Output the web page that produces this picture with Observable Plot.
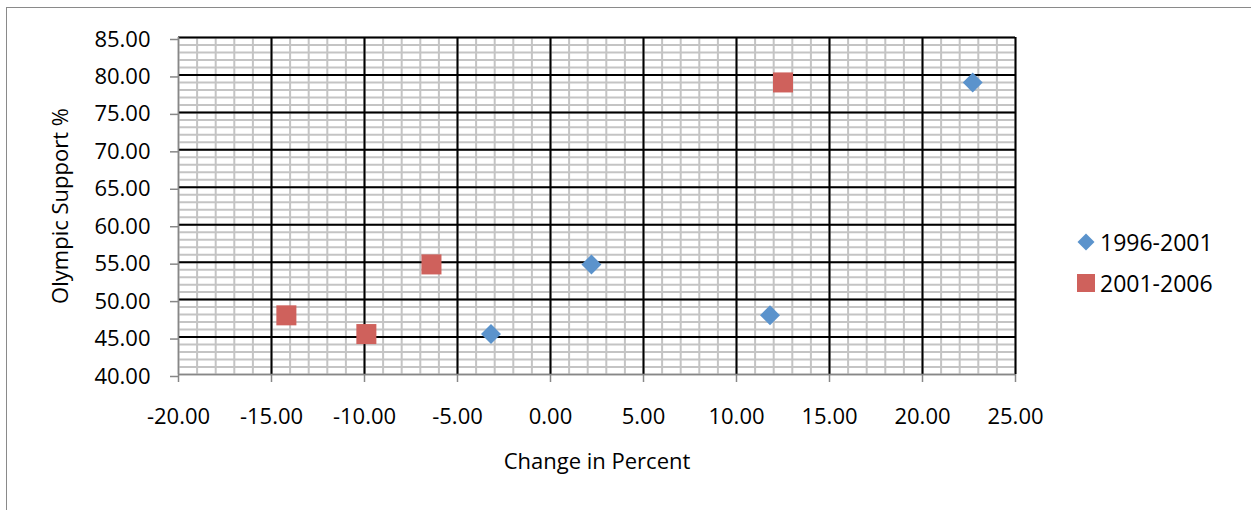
<!DOCTYPE html>
<html>
<head>
<meta charset="utf-8">
<script src="https://cdn.jsdelivr.net/npm/d3@7"></script>
<script src="https://cdn.jsdelivr.net/npm/@observablehq/plot@0.6"></script>
<style>
  body { margin: 0; background: #fff; font-family: "Open Sans", sans-serif; }
  #wrap { position: relative; width: 1251px; height: 510px; overflow: hidden; background: #fff; }
  #frame { position: absolute; left: 6px; top: 7px; width: 1300px; height: 560px; border: 1.5px solid #8a8a8a; box-sizing: border-box; }
  #chart { position: absolute; left: 0; top: 0; }
  .legend-item { position: absolute; left: 1076px; display: flex; align-items: center; font-size: 23px; color: #000; line-height: 1; }
  .legend-item svg { margin-right: 4px; }
</style>
</head>
<body>
<div id="wrap">
  <div id="frame"></div>
  <div id="chart"></div>
</div>
<script>
// Series names and colours
const seriesNames = ["1996-2001", "2001-2006"];
const seriesColors = ["#5b93cc", "#cf615c"];

// 1996-2001: change in percent vs Olympic support
const change9601 = [-3.2, 2.2, 11.8, 22.7];
const support9601 = [45.4, 54.7, 47.9, 79.0];

// 2001-2006: change in percent vs Olympic support
const change0106 = [-9.9, -6.4, -14.2, 12.5];
const support0106 = [45.4, 54.7, 47.9, 79.0];

// Axis ticks
const xTicks = [-20, -15, -10, -5, 0, 5, 10, 15, 20, 25];
const yTicks = [40, 45, 50, 55, 60, 65, 70, 75, 80, 85];
const xMinor = d3.range(-20, 26, 1);
const yMinor = d3.range(40, 86, 1);

const rows9601 = change9601.map((c, i) => ({change: c, support: support9601[i]}));
const rows0106 = change0106.map((c, i) => ({change: c, support: support0106[i]}));

const fmt = d => d.toFixed(2);
const axisGray = "#878787";

const chart = Plot.plot({
  width: 1251,
  height: 510,
  marginLeft: 178,
  marginRight: 236,
  marginTop: 37,
  marginBottom: 136,
  style: { fontFamily: "Open Sans", fontSize: "22px", color: "#000", background: "transparent" },
  x: { domain: [-20, 25] },
  y: { domain: [40, 85] },
  marks: [
    // minor grid
    Plot.ruleX(xMinor, { stroke: "#c4c4c4", strokeWidth: 2 }),
    Plot.ruleY(yMinor, { stroke: "#c4c4c4", strokeWidth: 2 }),
    // major grid
    Plot.ruleX(xTicks.slice(1), { stroke: "#000", strokeWidth: 2 }),
    Plot.ruleY(yTicks.slice(1), { stroke: "#000", strokeWidth: 2 }),
    // axis lines
    Plot.ruleX([-20], { stroke: axisGray, strokeWidth: 1.5 }),
    Plot.ruleY([40], { stroke: axisGray, strokeWidth: 1.5 }),
    Plot.axisX({ ticks: xTicks, tickSize: 8, tickPadding: 26, tickFormat: fmt, stroke: axisGray, strokeWidth: 1.5, fill: "#000", label: null }),
    Plot.axisY({ ticks: yTicks, tickSize: 8, tickPadding: 20, tickFormat: fmt, stroke: axisGray, strokeWidth: 1.5, fill: "#000", label: null, dy: 2 }),
    // axis titles
    Plot.text(["Olympic Support %"], { frameAnchor: "left", textAnchor: "middle", dx: -118, rotate: -90, fontSize: 22, fill: "#000" }),
    Plot.text(["Change in Percent"], { frameAnchor: "bottom", dy: 94, fontSize: 22, fill: "#000" }),
    // series
    Plot.dot(rows9601, { x: "change", y: "support", symbol: "diamond2", r: 9, fill: seriesColors[0], stroke: "none" }),
    Plot.dot(rows0106, { x: "change", y: "support", symbol: "square", r: 11.3, fill: seriesColors[1], stroke: "none" })
  ]
});
document.getElementById("chart").appendChild(chart);

// Legend on the right
const wrap = document.getElementById("wrap");
const legendTops = [230, 271];
const legendSymbols = [d3.symbolDiamond2, d3.symbolSquare];
const legendSizes = [Math.pow(17 / 1.2525, 2), 18 * 18];
seriesNames.forEach((name, i) => {
  const item = document.createElement("div");
  item.className = "legend-item";
  item.style.top = legendTops[i] + "px";
  const svg = d3.create("svg").attr("width", 20).attr("height", 24);
  svg.append("path")
    .attr("transform", "translate(10,12)")
    .attr("d", d3.symbol(legendSymbols[i], legendSizes[i])())
    .attr("fill", seriesColors[i]);
  item.appendChild(svg.node());
  const label = document.createElement("span");
  label.textContent = name;
  item.appendChild(label);
  wrap.appendChild(item);
});
</script>
</body>
</html>
